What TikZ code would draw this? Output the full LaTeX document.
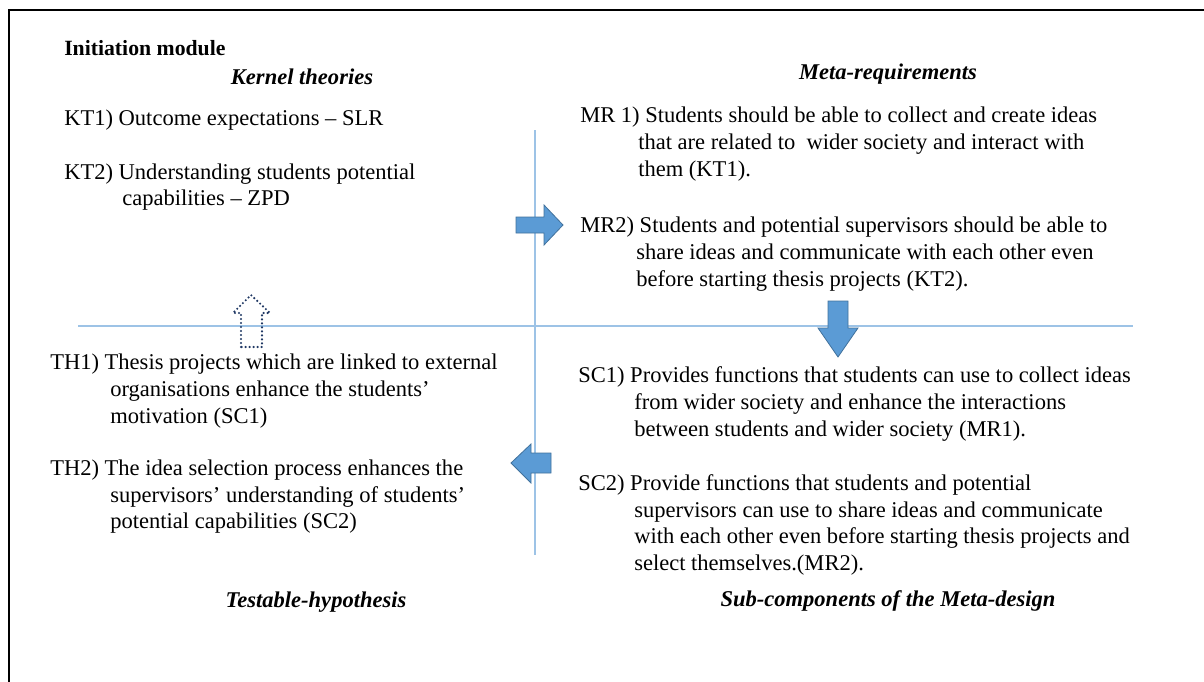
\documentclass[tikz,border=0pt]{standalone}
\usepackage{fontspec}
\setmainfont{Liberation Serif}
\begin{document}
\definecolor{rule}{HTML}{9DC3E6}
\definecolor{arrowfill}{HTML}{5B9BD5}
\definecolor{arrowedge}{HTML}{41719C}
\definecolor{navy}{HTML}{203864}
\begin{tikzpicture}[x=0.75pt,y=-0.75pt,
  txt/.style={anchor=base west,inner sep=0pt,font=\fontsize{16.9}{20}\selectfont},
  head/.style={anchor=base,inner sep=0pt,font=\fontsize{16.9}{20}\selectfont\bfseries\itshape},
  quadline/.style={draw=rule,line width=0.9pt},
  blockarrow/.style={fill=arrowfill,draw=arrowedge,line width=0.6pt},
  hollowarrow/.style={draw=navy,line width=1.8pt,dash pattern=on 0pt off 3pt,line cap=round,line join=round}]
\useasboundingbox (0,0) rectangle (1204,682);
% frame (left and top edges)
\draw[line width=1.6pt] (9,683) -- (9,10) -- (1205,10);

% quadrant dividers
\coordinate (vtop) at (535,130);
\coordinate (vbot) at (535,555);
\coordinate (hleft) at (78,326);
\coordinate (hright) at (1133,326);
\draw[quadline] (vtop) -- (vbot);
\draw[quadline] (hleft) -- (hright);

% headings
\node[anchor=base west,inner sep=0pt,font=\fontsize{16.3}{20}\selectfont\bfseries] (title) at (64,55) {Initiation module};
\node[head] (kt) at (302,84) {Kernel theories};
\node[head] (mr) at (888,79) {Meta-requirements};
\node[head] (th) at (316,607) {Testable-hypothesis};
\node[head] (sc) at (888,606) {Sub-components of the Meta-design};

% kernel theories
\node[txt] (kt1) at (64,125) {KT1) Outcome expectations -- SLR};
\node[txt] (kt2a) at (64,179) {KT2) Understanding students potential};
\node[txt] (kt2b) at (122,205) {capabilities -- ZPD};

% meta-requirements
\node[txt] (mr1a) at (580,122) {MR 1) Students should be able to collect and create ideas};
\node[txt] (mr1b) at (638,149) {that are related to\ \ wider society and interact with};
\node[txt] (mr1c) at (638,176) {them (KT1).};
\node[txt] (mr2a) at (580,232) {MR2) Students and potential supervisors should be able to};
\node[txt] (mr2b) at (636,259) {share ideas and communicate with each other even};
\node[txt] (mr2c) at (636,286) {before starting thesis projects (KT2).};

% testable hypotheses
\node[txt] (th1a) at (50,369) {TH1) Thesis projects which are linked to external};
\node[txt] (th1b) at (110,396) {organisations enhance the students’};
\node[txt] (th1c) at (110,423) {motivation (SC1)};
\node[txt] (th2a) at (50,475) {TH2) The idea selection process enhances the};
\node[txt] (th2b) at (110,502) {supervisors’ understanding of students’};
\node[txt] (th2c) at (110,528) {potential capabilities (SC2)};

% sub-components
\node[txt] (sc1a) at (578,382) {SC1) Provides functions that students can use to collect ideas};
\node[txt] (sc1b) at (634,409) {from wider society and enhance the interactions};
\node[txt] (sc1c) at (634,436) {between students and wider society (MR1).};
\node[txt] (sc2a) at (578,490) {SC2) Provide functions that students and potential};
\node[txt] (sc2b) at (634,517) {supervisors can use to share ideas and communicate};
\node[txt] (sc2c) at (634,543) {with each other even before starting thesis projects and};
\node[txt] (sc2d) at (634,570) {select themselves.(MR2).};

% flow arrows between quadrants
\draw[blockarrow] (516,217) -- (544,217) -- (544,205) -- (563,225) -- (544,245) -- (544,233) -- (516,233) -- cycle;
\draw[blockarrow] (828,301) -- (848,301) -- (848,328) -- (858,328) -- (838,357) -- (818,328) -- (828,328) -- cycle;
\draw[blockarrow] (551,453) -- (531,453) -- (531,444) -- (511,463) -- (531,483) -- (531,473) -- (551,473) -- cycle;
\draw[hollowarrow] (241,347) -- (241,313) -- (233,313) -- (251,295) -- (270,313) -- (262,313) -- (262,347) -- cycle;
\end{tikzpicture}
\end{document}
